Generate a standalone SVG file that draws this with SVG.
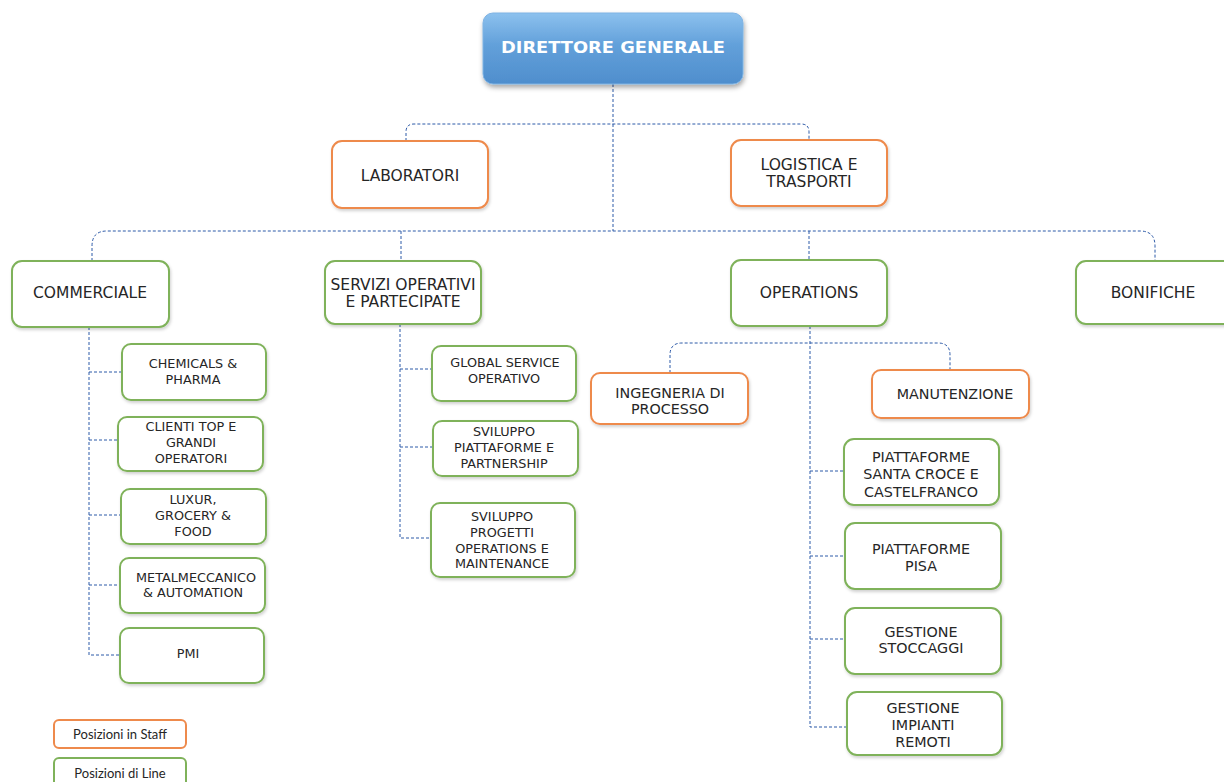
<svg xmlns="http://www.w3.org/2000/svg" width="1224" height="782" viewBox="0 0 1224 782">
<defs>
<linearGradient id="dg" x1="0" y1="0" x2="0" y2="1">
<stop offset="0" stop-color="#8cc1ee"/>
<stop offset="0.45" stop-color="#62a0da"/>
<stop offset="1" stop-color="#4f8ecd"/>
</linearGradient>
<filter id="sh" x="-10%" y="-10%" width="130%" height="140%">
<feDropShadow dx="1" dy="2" stdDeviation="1.5" flood-color="#000" flood-opacity="0.18"/>
</filter>
<filter id="sh2" x="-10%" y="-20%" width="130%" height="150%">
<feDropShadow dx="1" dy="3" stdDeviation="2.5" flood-color="#000" flood-opacity="0.35"/>
</filter>
</defs>
<style>
.st{fill:#fff;stroke:#ee8a4c;stroke-width:2}
.ln{fill:#fff;stroke:#7fb25a;stroke-width:2}
text{font-family:"DejaVu Sans",Verdana,sans-serif;fill:#262626;text-anchor:middle}
.t1{font-size:15.5px}
.t2{font-size:14.3px}
.t3{font-size:12.8px}
.lg{font-family:Lato,"Open Sans",sans-serif;font-size:13px}
.c{fill:none;stroke:#2d5aa8;stroke-width:1;stroke-dasharray:3 2}
</style>
<rect width="1224" height="782" fill="#fff"/>
<g id="connectors">
<path class="c" d="M613 84V231"/>
<path class="c" d="M406 141V132Q406 124 414 124H801Q809 124 809 132V140"/>
<path class="c" d="M92 261V246Q92 231 107 231H1140Q1155 231 1155 246V261"/>
<path class="c" d="M401 231V262"/>
<path class="c" d="M809 231V260"/>
<path class="c" d="M89 327V655H120"/>
<path class="c" d="M89 372H122M89 440H118M89 515H121M89 585H120"/>
<path class="c" d="M400 324V538H431"/>
<path class="c" d="M400 369H432M400 447H433"/>
<path class="c" d="M810 326V727H847"/>
<path class="c" d="M670 373V355Q670 343 682 343H938Q950 343 950 355V370"/>
<path class="c" d="M810 471H844M810 556H845M810 639H845"/>
</g>
<g id="dg-node">
<rect x="483" y="13" width="260" height="71" rx="10" fill="url(#dg)" stroke="#7fb3e3" stroke-width="1" filter="url(#sh2)"/>
<text x="613" y="53" style="font-family:'DejaVu Sans',Verdana,sans-serif;font-size:16.5px;font-weight:bold;fill:#fff" textLength="224" lengthAdjust="spacingAndGlyphs">DIRETTORE GENERALE</text>
</g>
<g id="laboratori"><rect class="st" x="332" y="141" width="156" height="67" rx="10" filter="url(#sh)"/><text class="t1" x="410" y="181">LABORATORI</text></g>
<g id="logistica"><rect class="st" x="731" y="140" width="156" height="66" rx="10" filter="url(#sh)"/><text class="t1" x="809" y="170">LOGISTICA E</text><text class="t1" x="809" y="187">TRASPORTI</text></g>
<g id="commerciale"><rect class="ln" x="12" y="261" width="157" height="66" rx="10" filter="url(#sh)"/><text class="t1" x="90" y="298">COMMERCIALE</text></g>
<g id="servizi"><rect class="ln" x="325" y="261" width="156" height="63" rx="10" filter="url(#sh)"/><text class="t1" x="403" y="290">SERVIZI OPERATIVI</text><text class="t1" x="403" y="307">E PARTECIPATE</text></g>
<g id="operations"><rect class="ln" x="731" y="260" width="156" height="66" rx="10" filter="url(#sh)"/><text class="t1" x="809" y="298">OPERATIONS</text></g>
<g id="bonifiche"><rect class="ln" x="1076" y="261" width="160" height="63" rx="10" filter="url(#sh)"/><text class="t1" x="1153" y="298">BONIFICHE</text></g>
<g id="chemicals"><rect class="ln" x="122" y="344" width="144" height="56" rx="9" filter="url(#sh)"/><text class="t3" x="193" y="368">CHEMICALS &amp;</text><text class="t3" x="193" y="384">PHARMA</text></g>
<g id="clienti"><rect class="ln" x="118" y="417" width="145" height="54" rx="9" filter="url(#sh)"/><text class="t3" x="191" y="431">CLIENTI TOP E</text><text class="t3" x="191" y="447">GRANDI</text><text class="t3" x="191" y="463">OPERATORI</text></g>
<g id="luxur"><rect class="ln" x="121" y="489" width="145" height="55" rx="9" filter="url(#sh)"/><text class="t3" x="193" y="504">LUXUR,</text><text class="t3" x="193" y="520">GROCERY &amp;</text><text class="t3" x="193" y="536">FOOD</text></g>
<g id="metal"><rect class="ln" x="120" y="558" width="145" height="55" rx="9" filter="url(#sh)"/><text class="t3" x="196" y="582">METALMECCANICO</text><text class="t3" x="193" y="597">&amp; AUTOMATION</text></g>
<g id="pmi"><rect class="ln" x="120" y="628" width="144" height="55" rx="9" filter="url(#sh)"/><text class="t3" x="188" y="658">PMI</text></g>
<g id="global"><rect class="ln" x="432" y="346" width="144" height="55" rx="9" filter="url(#sh)"/><text class="t3" x="505" y="367">GLOBAL SERVICE</text><text class="t3" x="504" y="383">OPERATIVO</text></g>
<g id="sviluppo1"><rect class="ln" x="433" y="421" width="145" height="55" rx="9" filter="url(#sh)"/><text class="t3" x="504" y="436">SVILUPPO</text><text class="t3" x="504" y="452">PIATTAFORME E</text><text class="t3" x="504" y="468">PARTNERSHIP</text></g>
<g id="sviluppo2"><rect class="ln" x="431" y="503" width="144" height="74" rx="9" filter="url(#sh)"/><text class="t3" x="502" y="521">SVILUPPO</text><text class="t3" x="502" y="537">PROGETTI</text><text class="t3" x="502" y="553">OPERATIONS E</text><text class="t3" x="502" y="568">MAINTENANCE</text></g>
<g id="ingegneria"><rect class="st" x="591" y="373" width="157" height="51" rx="9" filter="url(#sh)"/><text class="t2" x="670" y="398">INGEGNERIA DI</text><text class="t2" x="670" y="414">PROCESSO</text></g>
<g id="manutenzione"><rect class="st" x="872" y="370" width="157" height="48" rx="9" filter="url(#sh)"/><text class="t2" x="955" y="399">MANUTENZIONE</text></g>
<g id="santacroce"><rect class="ln" x="844" y="439" width="155" height="66" rx="10" filter="url(#sh)"/><text class="t2" x="921" y="462">PIATTAFORME</text><text class="t2" x="921" y="479">SANTA CROCE E</text><text class="t2" x="921" y="497">CASTELFRANCO</text></g>
<g id="pisa"><rect class="ln" x="845" y="523" width="156" height="66" rx="10" filter="url(#sh)"/><text class="t2" x="921" y="554">PIATTAFORME</text><text class="t2" x="921" y="571">PISA</text></g>
<g id="stoccaggi"><rect class="ln" x="845" y="608" width="156" height="66" rx="10" filter="url(#sh)"/><text class="t2" x="921" y="637">GESTIONE</text><text class="t2" x="921" y="653">STOCCAGGI</text></g>
<g id="remoti"><rect class="ln" x="847" y="692" width="155" height="63" rx="10" filter="url(#sh)"/><text class="t2" x="923" y="713">GESTIONE</text><text class="t2" x="923" y="730">IMPIANTI</text><text class="t2" x="923" y="747">REMOTI</text></g>
<g id="legend-staff"><rect class="st" x="54" y="720" width="132" height="28" rx="5"/><text class="lg" x="120" y="739">Posizioni in Staff</text></g>
<g id="legend-line"><rect class="ln" x="54" y="758" width="132" height="32" rx="5"/><text class="lg" x="120" y="778">Posizioni di Line</text></g>
</svg>
